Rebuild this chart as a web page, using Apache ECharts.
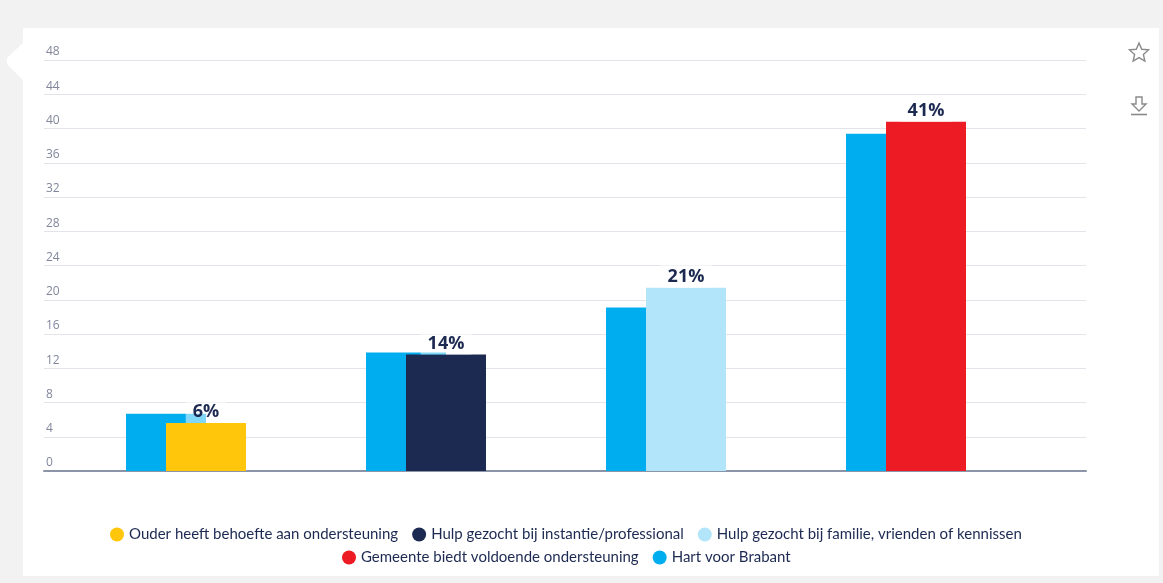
<!DOCTYPE html>
<html>
<head>
<meta charset="utf-8">
<script src="https://cdn.jsdelivr.net/npm/echarts@6/dist/echarts.min.js"></script>
<style>
html,body{margin:0;padding:0;background:#f2f2f2;}
#chart{width:1163px;height:583px;}
</style>
</head>
<body>
<div id="chart"></div>
<script>
const categories = [
  'Ouder heeft behoefte aan ondersteuning',
  'Hulp gezocht bij instantie/professional',
  'Hulp gezocht bij familie, vrienden of kennissen',
  'Gemeente biedt voldoende ondersteuning'
];
const themeValues = [5.6, 13.6, 21.4, 40.8];
const hartName = 'Hart voor Brabant';
const hartValues = [6.7, 13.85, 19.1, 39.4];
const themeColors = ['#ffc60b', '#1c2951', '#b3e5fa', '#ed1c24'];
const hartColor = '#00aeef';
const yMin = 0, yMax = 48, yStep = 4;

const chart = echarts.init(document.getElementById('chart'), null, {renderer: 'canvas'});

const labelFont = '"Open Sans", "DejaVu Sans", sans-serif';
const legendFont = 'Lato, "Open Sans", sans-serif';

const series = [{
  name: hartName,
  type: 'bar',
  xAxisIndex: 1, yAxisIndex: 1,
  data: hartValues,
  barWidth: 80,
  barGap: '-50%',
  itemStyle: {color: hartColor},
  emphasis: {disabled: true}
}];
categories.forEach(function (name, i) {
  series.push({
    name: name,
    type: 'bar',
    stack: 'theme',
    xAxisIndex: 1, yAxisIndex: 1,
    barWidth: 80,
    barGap: '-50%',
    data: themeValues.map(function (v, j) { return j === i ? v : '-'; }),
    itemStyle: {color: themeColors[i]},
    emphasis: {disabled: true},
    label: {
      show: true,
      position: 'top',
      distance: 0,
      formatter: function (p) { return Math.round(p.value) + '%'; },
      fontFamily: labelFont,
      fontWeight: 'bold',
      fontSize: 18,
      color: '#1c2951',
      backgroundColor: 'rgba(255,255,255,0.5)',
      padding: [3, 7, 2, 7]
    }
  });
});

// star icon points
const starPts = [];
for (let k = 0; k < 10; k++) {
  const r = k % 2 === 0 ? 10 : 4.6;
  const a = -Math.PI / 2 + k * Math.PI / 5;
  starPts.push([1139 + r * Math.cos(a), 53 + r * Math.sin(a)]);
}

const legendCommon = {
  icon: 'circle', itemWidth: 14, itemHeight: 14, itemGap: 14,
  selectedMode: false,
  textStyle: {color: '#1c2951', fontSize: 15, fontFamily: legendFont}
};

const option = {
  backgroundColor: '#f2f2f2',
  animation: false,
  graphic: [
    {type: 'rect', z: -10, shape: {x: 23, y: 28, width: 1136, height: 548}, style: {fill: '#ffffff'}},
    {type: 'polygon', z: -10, shape: {points: [[24, 42], [7, 58], [7, 64], [24, 81]]}, style: {fill: '#ffffff'}},
    {type: 'polygon', shape: {points: starPts}, style: {fill: 'none', stroke: '#8a8a8a', lineWidth: 1.4}},
    {type: 'polygon', shape: {points: [[1136, 97], [1142, 97], [1142, 104], [1146, 104], [1139, 111], [1132, 104], [1136, 104]]}, style: {fill: 'none', stroke: '#8a8a8a', lineWidth: 1.4}},
    {type: 'line', shape: {x1: 1131, y1: 114.5, x2: 1147, y2: 114.5}, style: {stroke: '#8a8a8a', lineWidth: 1.6}}
  ],
  grid: [
    {left: 44, right: 77, top: 60, bottom: 112},
    {left: 66, right: 137, top: 60, bottom: 112}
  ],
  xAxis: [
    {
      gridIndex: 0, type: 'category', data: categories,
      axisLine: {show: true, lineStyle: {color: '#8c95a8', width: 2}},
      axisTick: {show: false}, axisLabel: {show: false}, splitLine: {show: false}
    },
    {
      gridIndex: 1, type: 'category', data: categories, show: false
    }
  ],
  yAxis: [
    {
      gridIndex: 0, type: 'value', min: yMin, max: yMax, interval: yStep,
      axisLine: {show: false}, axisTick: {show: false},
      splitLine: {show: true, lineStyle: {color: '#e3e4ea', width: 1.2}},
      axisLabel: {
        inside: true, align: 'left', verticalAlign: 'bottom', margin: 2,
        padding: [0, 0, 2, 0],
        color: '#80869b', fontSize: 12, fontFamily: '"Open Sans", sans-serif'
      }
    },
    {
      gridIndex: 1, type: 'value', min: yMin, max: yMax, interval: yStep, show: false,
      splitLine: {show: false}
    }
  ],
  legend: [
    Object.assign({data: categories.slice(0, 3), left: 105, top: 522}, legendCommon),
    Object.assign({data: [categories[3], hartName], left: 337, top: 545}, legendCommon)
  ],
  series: series
};
chart.setOption(option);
</script>
</body>
</html>
